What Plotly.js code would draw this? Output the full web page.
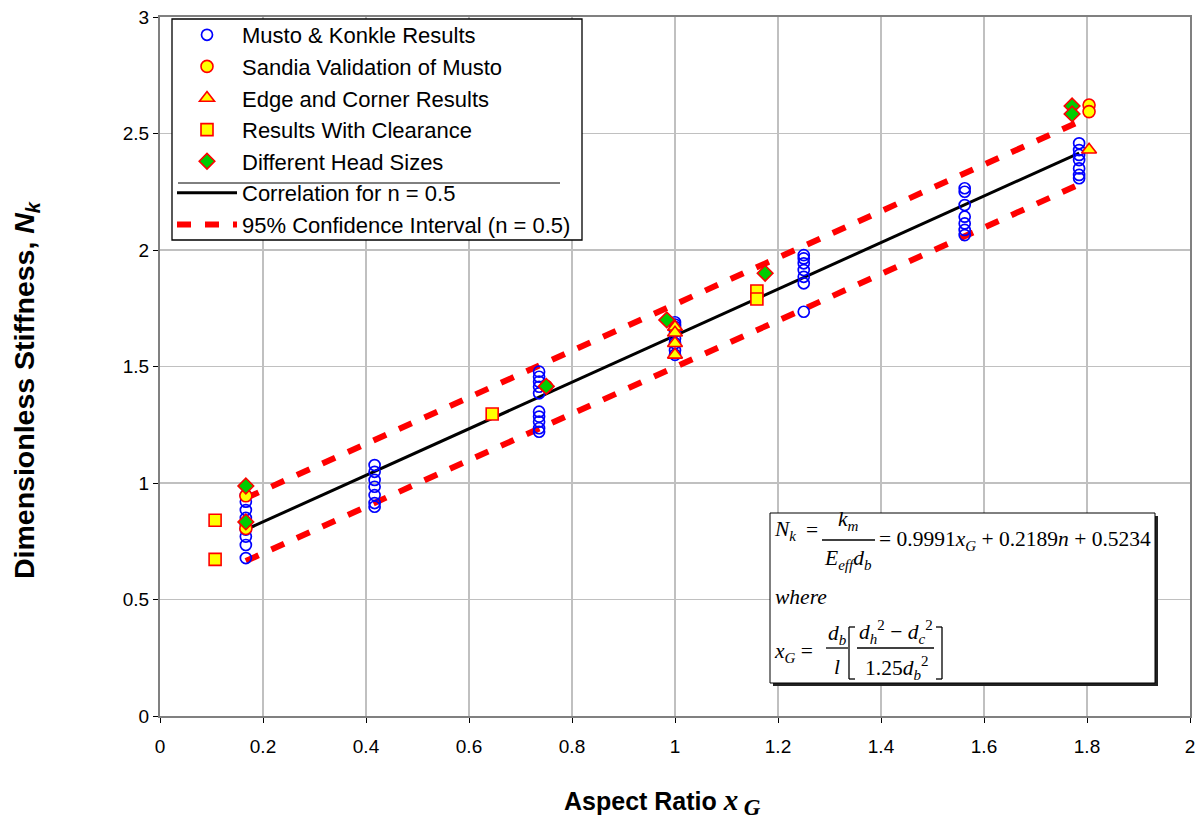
<!DOCTYPE html>
<html>
<head>
<meta charset="utf-8">
<script src="https://cdn.plot.ly/plotly-3.0.1.min.js"></script>
<style>html,body{margin:0;padding:0;background:#fff;}#chart{width:1202px;height:819px;}</style>
</head>
<body>
<div id="chart"></div>
<script>
// ---- Data ----
const mustoX = [0.1667,0.1667,0.1667,0.1667,0.1667,0.1667,0.1667,0.1667,0.1667,
                0.4167,0.4167,0.4167,0.4167,0.4167,0.4167,0.4167,
                0.7361,0.7361,0.7361,0.7361,0.7361,0.7361,0.7361,0.7361,0.7361,0.7361,
                1.0,1.0,1.0,1.0,1.0,1.0,1.0,1.0,
                1.25,1.25,1.25,1.25,1.25,1.25,1.25,
                1.5625,1.5625,1.5625,1.5625,1.5625,1.5625,1.5625,
                1.7847,1.7847,1.7847,1.7847,1.7847,1.7847,1.7847];
const mustoY = [0.948,0.92,0.884,0.85,0.82,0.80,0.77,0.734,0.678,
                1.077,1.048,1.013,0.984,0.948,0.914,0.898,
                1.478,1.456,1.435,1.413,1.385,1.306,1.285,1.263,1.235,1.22,
                1.69,1.68,1.67,1.65,1.62,1.60,1.57,1.55,
                1.978,1.964,1.943,1.914,1.885,1.857,1.735,
                2.265,2.25,2.193,2.143,2.114,2.086,2.064,
                2.458,2.429,2.408,2.386,2.35,2.322,2.308];
const sandiaX = [0.1667,0.1667,0.75,1.804,1.804];
const sandiaY = [0.945,0.805,1.415,2.622,2.594];
const edgeX = [1.0,1.0,1.0,1.0,1.804];
const edgeY = [1.67,1.645,1.60,1.55,2.43];
const clearX = [0.107,0.107,0.645,1.159,1.159];
const clearY = [0.84,0.672,1.296,1.824,1.79];
const headX = [0.1667,0.1667,0.75,0.984,1.175,1.771,1.771];
const headY = [0.987,0.833,1.415,1.70,1.90,2.618,2.584];
const corrX = [0.1667,1.7847];
const corrY = [0.800,2.416];
const ciX = [0.1667,1.7847];
const ciUpperY = [0.935,2.551];
const ciLowerY = [0.665,2.281];
const legendNames = ["Musto & Konkle Results","Sandia Validation of Musto","Edge and Corner Results",
                     "Results With Clearance","Different Head Sizes","Correlation for n = 0.5",
                     "95% Confidence Interval (n = 0.5)"];
const xTicks = [0,0.2,0.4,0.6,0.8,1,1.2,1.4,1.6,1.8,2];
const yTicks = [0,0.5,1,1.5,2,2.5,3];
const xTitle = '<b>Aspect Ratio </b><span style="font-family:Liberation Serif;font-size:29px"><b><i>x</i></b></span>' +
               '<span style="font-size:20px"> </span><sub><span style="font-family:Liberation Serif;font-size:23px"><b><i>G</i></b></span></sub>';
const yTitle = '<b>Dimensionless Stiffness, <i>N<sub>k</sub></i></b>';

// ---- Traces ----
const RED = '#ff0000', YEL = '#ffff00';
const traces = [
  {x: corrX, y: corrY, mode:'lines', name: legendNames[5], legendrank: 6, legendgroup:'g6',
   line:{color:'#000', width:3}},
  {x: ciX, y: ciUpperY, mode:'lines', name: legendNames[6], legendrank: 7, legendgroup:'g7',
   line:{color:RED, width:6, dash:'14px,14px'}},
  {x: ciX, y: ciLowerY, mode:'lines', name: legendNames[6], showlegend:false, legendgroup:'g7',
   line:{color:RED, width:6, dash:'14px,14px'}},
  {x: mustoX, y: mustoY, mode:'markers', name: legendNames[0], legendrank: 1, legendgroup:'g1',
   marker:{symbol:'circle-open', size:11, color:'#0000ff', line:{width:1.7, color:'#0000ff'}}},
  {x: sandiaX, y: sandiaY, mode:'markers', name: legendNames[1], legendrank: 2, legendgroup:'g2',
   marker:{symbol:'circle', size:12, color:YEL, line:{width:1.6, color:RED}}},
  {x: edgeX, y: edgeY, mode:'markers', name: legendNames[2], legendrank: 3, legendgroup:'g3',
   marker:{symbol:'triangle-up', size:13, color:YEL, line:{width:1.6, color:RED}}},
  {x: clearX, y: clearY, mode:'markers', name: legendNames[3], legendrank: 4, legendgroup:'g4',
   marker:{symbol:'square', size:12, color:YEL, line:{width:1.6, color:RED}}},
  {x: headX, y: headY, mode:'markers', name: legendNames[4], legendrank: 5, legendgroup:'g5',
   marker:{symbol:'diamond', size:12, color:'#00cc00', line:{width:1.6, color:RED}}}
];

// ---- Layout helpers (pixel -> paper) ----
const L = 160, R = 1190, T = 17, B = 716;
const px = X => (X - L) / (R - L);
const py = Y => (B - Y) / (B - T);
const SERIF = 'Liberation Serif, Times New Roman, serif';
const SANS = 'Liberation Sans, Arial, sans-serif';
function ann(X, Y, text, size, anchor) {
  return {xref:'paper', yref:'paper', x:px(X), y:py(Y), text:text, showarrow:false,
          xanchor: anchor || 'left', yanchor:'middle',
          font:{family:SERIF, size:size || 20, color:'#000'}};
}
function hline(X0, X1, Y, w) {
  return {type:'line', xref:'paper', yref:'paper', x0:px(X0), x1:px(X1), y0:py(Y), y1:py(Y),
          line:{color:'#000', width:w || 1.3}};
}
function vline(X, Y0, Y1) {
  return {type:'line', xref:'paper', yref:'paper', x0:px(X), x1:px(X), y0:py(Y0), y1:py(Y1),
          line:{color:'#000', width:1.3}};
}

const annotations = [
  ann(772, 530, '<i>N</i><sub><i>k</i></sub>', 21.5),
  ann(804, 530, '=', 21.5),
  ann(848, 520, '<i>k</i><sub><i>m</i></sub>', 21.5, 'center'),
  ann(848, 559, '<i>E</i><sub><i>eff</i></sub><i>d</i><sub><i>b</i></sub>', 21.5, 'center'),
  ann(877, 540, '= 0.9991<i>x</i><sub><i>G</i></sub> + 0.2189<i>n</i> + 0.5234', 21.5),
  ann(773, 597, '<i>where</i>', 21.5),
  ann(772, 652, '<i>x</i><sub><i>G</i></sub> =', 21.5),
  ann(837, 634, '<i>d</i><sub><i>b</i></sub>', 21.5, 'center'),
  ann(837, 667, '<i>l</i>', 21.5, 'center'),
  ann(896, 632, '<i>d</i><sub><i>h</i></sub><sup>2</sup> − <i>d</i><sub><i>c</i></sub><sup>2</sup>', 21.5, 'center'),
  ann(896, 668, '1.25<i>d</i><sub><i>b</i></sub><sup>2</sup>', 21.5, 'center'),
  // axis titles
  {xref:'paper', yref:'paper', x:px(662), y:py(802), text:xTitle, showarrow:false,
   xanchor:'center', yanchor:'middle', font:{family:SANS, size:25, color:'#000'}},
  {xref:'paper', yref:'paper', x:px(26), y:py(390), text:yTitle, showarrow:false, textangle:-90,
   xanchor:'center', yanchor:'middle', font:{family:SANS, size:28.5, color:'#000'}}
];

const shapes = [
  // legend box (white background over gridlines, border)
  {type:'rect', xref:'paper', yref:'paper', x0:px(172), x1:px(582), y0:py(240), y1:py(19),
   line:{color:'#000', width:1.3}, fillcolor:'#fff', layer:'above'},
  // legend separator
  hline(178, 560, 183, 1),
  // formula box with shadow
  {type:'rect', xref:'paper', yref:'paper', x0:px(773), x1:px(1158), y0:py(686), y1:py(516),
   line:{width:0}, fillcolor:'#222'},
  {type:'rect', xref:'paper', yref:'paper', x0:px(770), x1:px(1155), y0:py(683), y1:py(513),
   line:{color:'#000', width:1}, fillcolor:'#fff'},
  hline(822, 875, 540),
  hline(826, 848, 648),
  hline(857, 934, 648),
  vline(849, 627, 679), hline(849, 855, 627), hline(849, 855, 679),
  vline(942, 627, 679), hline(936, 942, 627), hline(936, 942, 679)
];

const layout = {
  width: 1202, height: 819,
  margin: {l: L, r: 1202 - R, t: T, b: 819 - B, pad: 0},
  paper_bgcolor: '#fff', plot_bgcolor: '#fff',
  font: {family: SANS, color: '#000', size: 18},
  showlegend: true,
  legend: {x: px(172), y: py(14), xanchor: 'left', yanchor: 'top',
           bgcolor: 'rgba(0,0,0,0)', borderwidth: 0,
           font: {size: 22, family: SANS},
           tracegroupgap: 4, itemwidth: 60, traceorder: 'normal'},
  xaxis: {range: [0, 2], tickvals: xTicks, ticktext: xTicks.map(String),
          showgrid: true, gridcolor: '#c0c0c0', gridwidth: 1.5,
          showline: true, linecolor: '#808080', linewidth: 2, mirror: true,
          ticks: 'outside', ticklen: 5, tickcolor: '#000', tickwidth: 1,
          ticklabelstandoff: 7,
          tickfont: {size: 19}, zeroline: false},
  yaxis: {range: [0, 3], tickvals: yTicks, ticktext: yTicks.map(String),
          showgrid: true, gridcolor: '#c0c0c0', gridwidth: 1.5,
          showline: true, linecolor: '#808080', linewidth: 2, mirror: true,
          ticks: 'outside', ticklen: 5, tickcolor: '#000', tickwidth: 1,
          tickfont: {size: 19}, zeroline: false},
  annotations: annotations,
  shapes: shapes
};

Plotly.newPlot('chart', traces, layout, {staticPlot: true, displayModeBar: false});
</script>
</body>
</html>
